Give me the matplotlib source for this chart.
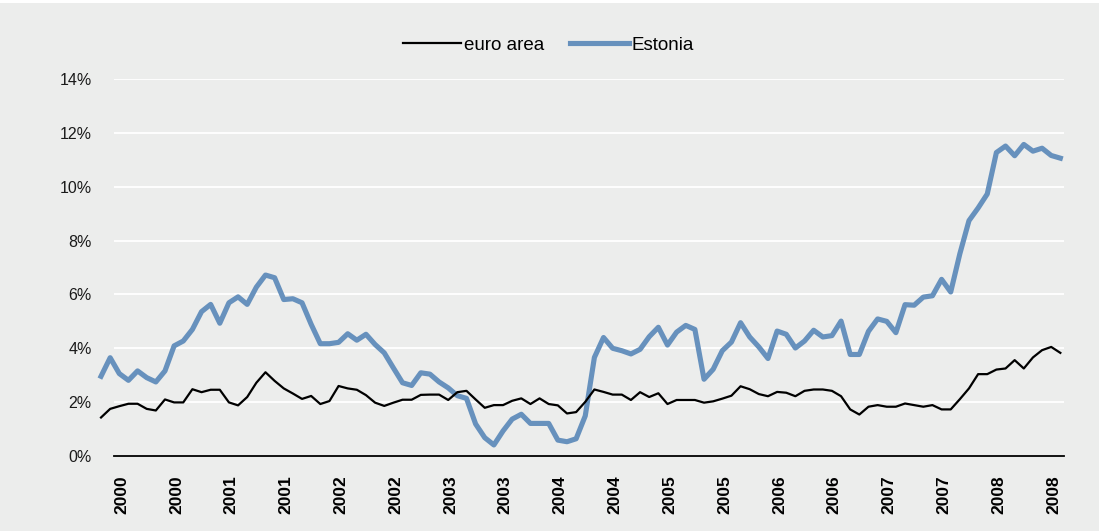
import numpy as np
import pandas as pd
import matplotlib
matplotlib.use("Agg")
import matplotlib.pyplot as plt
from matplotlib.patches import Rectangle

# monthly inflation, %, Jan 2000 - Oct 2008
euro_area = [1.43, 1.75, 1.85, 1.94, 1.94, 1.75, 1.69, 2.10, 1.99, 1.99,
             2.48, 2.37, 2.46, 2.46, 1.99, 1.88, 2.19, 2.72, 3.11, 2.79,
             2.51, 2.32, 2.12, 2.23, 1.93, 2.04, 2.60, 2.51, 2.46, 2.26,
             1.98, 1.86, 1.98, 2.09, 2.09, 2.27, 2.28, 2.28, 2.08, 2.37,
             2.42, 2.10, 1.79, 1.89, 1.89, 2.05, 2.14, 1.93, 2.14, 1.93,
             1.88, 1.58, 1.63, 2.01, 2.47, 2.38, 2.28, 2.28, 2.08, 2.37,
             2.19, 2.33, 1.93, 2.08, 2.08, 2.08, 1.98, 2.03, 2.13, 2.24,
             2.59, 2.48, 2.30, 2.22, 2.38, 2.35, 2.22, 2.42, 2.47, 2.47,
             2.42, 2.22, 1.73, 1.54, 1.83, 1.89, 1.83, 1.83, 1.95, 1.89,
             1.83, 1.89, 1.73, 1.73, 2.11, 2.51, 3.04, 3.04, 3.21, 3.25,
             3.56, 3.25, 3.66, 3.93, 4.05, 3.83]
estonia = [2.96, 3.65, 3.06, 2.81, 3.16, 2.91, 2.75, 3.16, 4.09, 4.27,
           4.70, 5.36, 5.63, 4.93, 5.69, 5.91, 5.63, 6.27, 6.72, 6.62,
           5.81, 5.84, 5.69, 4.89, 4.17, 4.17, 4.22, 4.54, 4.30, 4.52,
           4.14, 3.83, 3.27, 2.72, 2.62, 3.09, 3.04, 2.75, 2.53, 2.24,
           2.14, 1.19, 0.68, 0.41, 0.93, 1.37, 1.55, 1.21, 1.21, 1.21,
           0.59, 0.53, 0.64, 1.49, 3.66, 4.40, 4.00, 3.91, 3.79, 3.96,
           4.43, 4.78, 4.12, 4.60, 4.85, 4.70, 2.85, 3.22, 3.91, 4.23,
           4.95, 4.42, 4.05, 3.62, 4.64, 4.52, 4.01, 4.27, 4.67, 4.42,
           4.47, 5.01, 3.77, 3.77, 4.63, 5.09, 5.00, 4.58, 5.62, 5.60,
           5.90, 5.95, 6.56, 6.09, 7.51, 8.74, 9.21, 9.73, 11.27, 11.51,
           11.15, 11.57, 11.32, 11.43, 11.16, 11.06]
months = pd.date_range("2000-01-01", periods=len(estonia), freq="MS")
y_ticks = [0, 2, 4, 6, 8, 10, 12, 14]

bg = "#ecedec"
blue = "#6791bd"
plt.rcParams["font.family"] = ["Liberation Sans", "DejaVu Sans"]

fig = plt.figure(figsize=(10.99, 5.31), dpi=100, facecolor="white")
fig.patches.append(Rectangle((0, 0), 1.0, 1 - 3 / 531, transform=fig.transFigure,
                             facecolor=bg, edgecolor="none", zorder=-10))
ax = fig.add_axes([114 / 1099, 1 - 456 / 531, 950 / 1099, 377 / 531])
ax.set_facecolor(bg)

x = np.arange(len(estonia))
ax.plot(x, euro_area, color="black", lw=1.6, label="euro area", clip_on=False, zorder=3)
ax.plot(x, estonia, color=blue, lw=3.7, label="Estonia", clip_on=False, zorder=2)

ax.set_xlim(1.42, 105.4)
ax.set_ylim(0, 14)
ax.set_yticks(y_ticks)
ax.set_yticklabels([f"{v}%" for v in y_ticks], fontsize=11.5, color="#1a1a1a")
ax.yaxis.grid(True, color="white", lw=1.3)
ax.set_axisbelow(True)

tick_pos = x[2::6]
ax.set_xticks(tick_pos + 0.25)
ax.set_xticklabels([str(d.year) for d in months[2::6]], rotation=90,
                   fontsize=12.5, fontweight="bold")
ax.tick_params(axis="both", length=0)
ax.tick_params(axis="y", pad=16)
ax.tick_params(axis="x", pad=14)

for s in ["top", "right", "left"]:
    ax.spines[s].set_visible(False)
ax.spines["bottom"].set_color("black")
ax.spines["bottom"].set_linewidth(1.3)

fig.legend(loc="center", bbox_to_anchor=(0.499, 1 - 45 / 531), ncol=2,
           frameon=False, fontsize=13.5, handlelength=3.1, handletextpad=0.15,
           columnspacing=1.4)

fig.savefig("out.png", dpi=100, facecolor=fig.get_facecolor())
